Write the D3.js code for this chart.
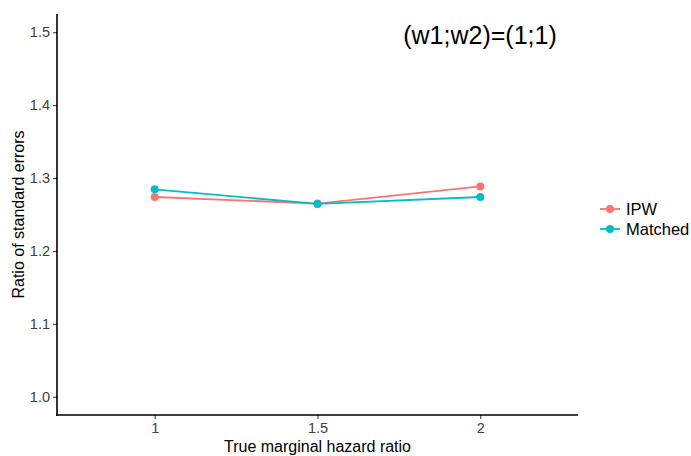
<!DOCTYPE html>
<html>
<head>
<meta charset="utf-8">
<script src="https://cdn.jsdelivr.net/npm/d3@7"></script>
<style>
  body { margin: 0; background: #fff; }
  svg { font-family: "Liberation Sans", Arial, sans-serif; }
</style>
</head>
<body>
<svg width="691" height="456"></svg>
<script>
var svg = d3.select("svg");

// data
var hazardRatios = ["1", "1.5", "2"];
var seriesNames = ["IPW", "Matched"];
var ipwValues = [1.274, 1.265, 1.2885];
var matchedValues = [1.2845, 1.2645, 1.274];
var yTicks = [1.0, 1.1, 1.2, 1.3, 1.4, 1.5];
var colors = ["#F8766D", "#00BFC4"];

var series = [
    { name: seriesNames[0], values: ipwValues, color: colors[0] },
    { name: seriesNames[1], values: matchedValues, color: colors[1] }
];

var panelLeft = 57, panelRight = 578, panelTop = 14, panelBottom = 415;

var x = d3.scalePoint()
    .domain(hazardRatios)
    .range([panelLeft, panelRight])
    .padding(0.6);

var y = d3.scaleLinear()
    .domain([0.975, 1.525])
    .range([panelBottom, panelTop]);

// axes
var yAxis = svg.append("g")
    .attr("transform", "translate(" + panelLeft + ",0)")
    .call(d3.axisLeft(y).tickValues(yTicks).tickFormat(d3.format(".1f")).tickSize(4).tickPadding(3));

var xAxis = svg.append("g")
    .attr("transform", "translate(0," + panelBottom + ")")
    .call(d3.axisBottom(x).tickSize(4).tickPadding(4));

[xAxis, yAxis].forEach(function (g) {
    g.attr("font-size", 14.5).attr("font-family", "Liberation Sans, Arial, sans-serif");
    g.select(".domain").remove();
    g.selectAll(".tick line").attr("stroke", "#333").attr("stroke-width", 1);
    g.selectAll(".tick text").attr("fill", "#404040");
});

svg.append("line")
    .attr("x1", panelLeft).attr("x2", panelLeft)
    .attr("y1", panelTop).attr("y2", panelBottom + 1)
    .attr("stroke", "#000").attr("stroke-width", 1.6);
svg.append("line")
    .attr("x1", panelLeft - 1).attr("x2", panelRight)
    .attr("y1", panelBottom).attr("y2", panelBottom)
    .attr("stroke", "#000").attr("stroke-width", 1.6);

// lines and points
var line = d3.line()
    .x(function (d, i) { return x(hazardRatios[i]); })
    .y(function (d) { return y(d); });

series.forEach(function (s) {
    svg.append("path")
        .datum(s.values)
        .attr("d", line)
        .attr("fill", "none")
        .attr("stroke", s.color)
        .attr("stroke-width", 1.8);

    svg.append("g")
        .selectAll("circle")
        .data(s.values)
        .enter().append("circle")
        .attr("cx", function (d, i) { return x(hazardRatios[i]); })
        .attr("cy", function (d) { return y(d); })
        .attr("r", 4)
        .attr("fill", s.color);
});

// titles
svg.append("text")
    .attr("x", (panelLeft + panelRight) / 2)
    .attr("y", 452)
    .attr("text-anchor", "middle")
    .style("font-size", "16px")
    .text("True marginal hazard ratio");

svg.append("text")
    .attr("transform", "translate(24," + ((panelTop + panelBottom) / 2) + ") rotate(-90)")
    .attr("text-anchor", "middle")
    .style("font-size", "16px")
    .text("Ratio of standard errors");

svg.append("text")
    .attr("x", 480)
    .attr("y", 44)
    .attr("text-anchor", "middle")
    .style("font-size", "25px")
    .text("(w1;w2)=(1;1)");

// legend
var legend = svg.append("g")
    .selectAll("g")
    .data(series)
    .enter().append("g")
    .attr("transform", function (d, i) { return "translate(600," + (209 + i * 20) + ")"; });

legend.append("line")
    .attr("x1", 0).attr("x2", 20)
    .attr("stroke", function (d) { return d.color; })
    .attr("stroke-width", 1.8);
legend.append("circle")
    .attr("cx", 10).attr("r", 4)
    .attr("fill", function (d) { return d.color; });
legend.append("text")
    .attr("x", 26)
    .attr("dy", "0.35em")
    .style("font-size", "16.5px")
    .text(function (d) { return d.name; });
</script>
</body>
</html>
